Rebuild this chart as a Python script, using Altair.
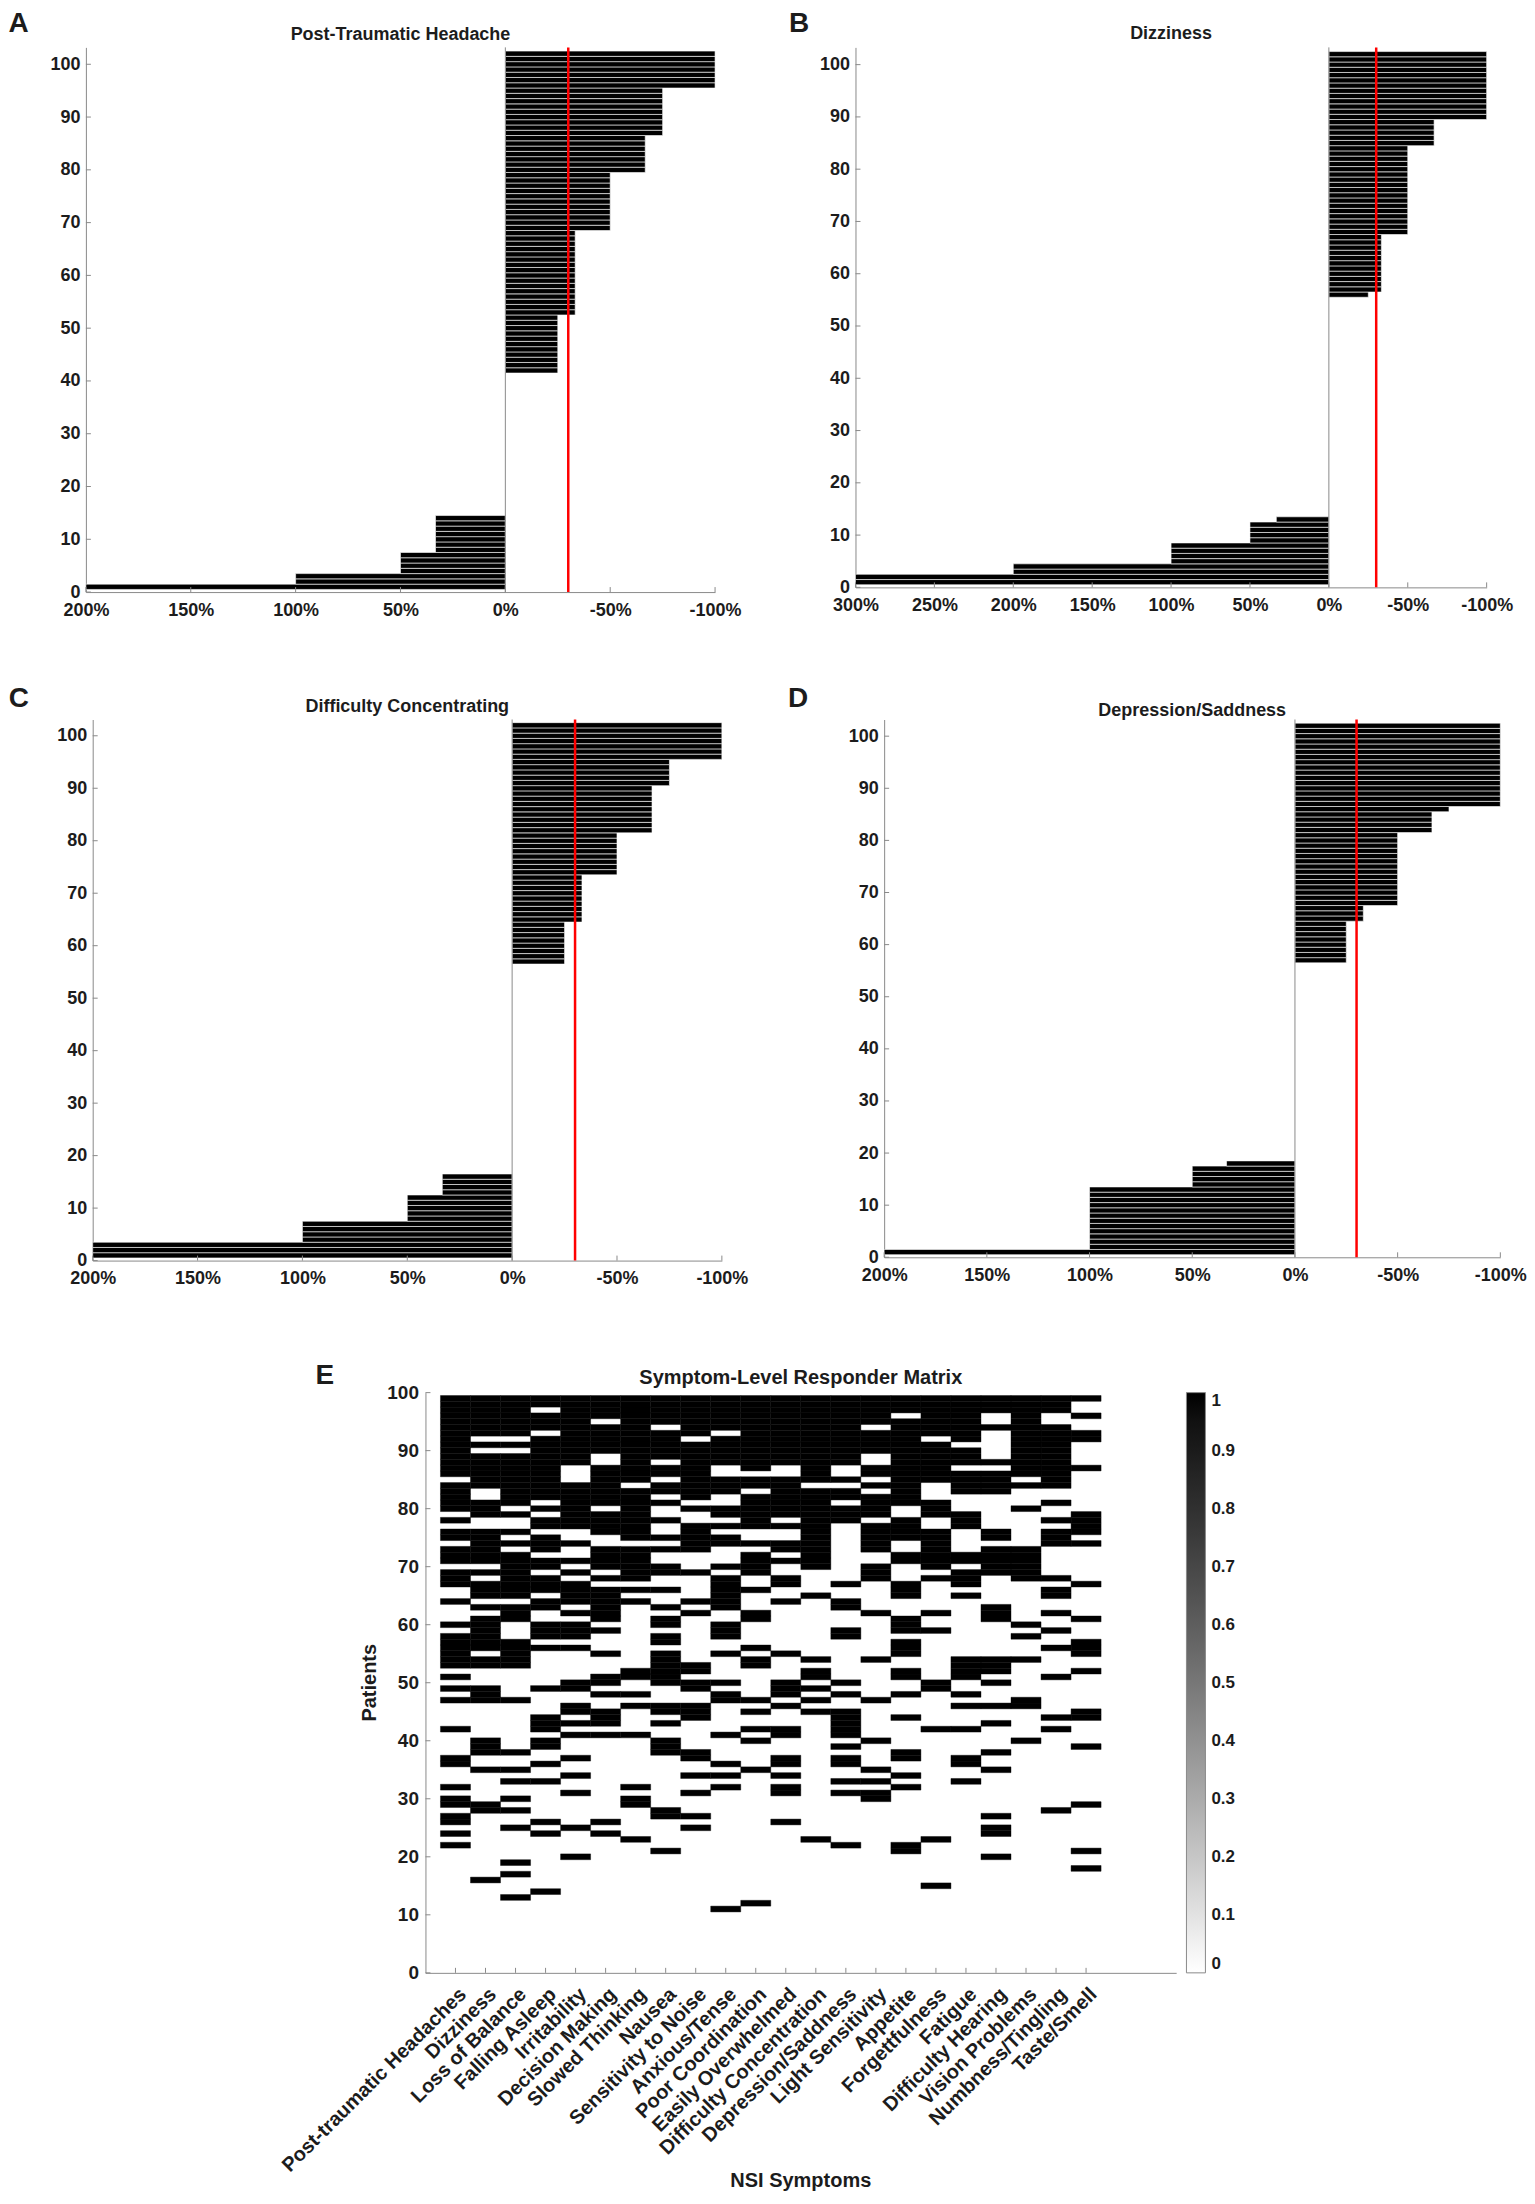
import altair as alt
import pandas as pd

FONT = "Liberation Sans, Arial, Helvetica, sans-serif"
AXIS_GRAY = "#8a8a8a"
TEXT = "#1c1c1c"
THRESHOLD = -30  # responder threshold (% change)

# ---------------- Panels A-D : % change per patient (sorted), as (value, count) runs
A_PCT = [200, 100, 50, 33.3, 0, -25, -33.3, -50, -66.7, -75, -100]
A_CNT = [1, 2, 4, 7, 27, 11, 16, 11, 7, 9, 7]
B_PCT = [300, 200, 100, 50, 33.3, 0, -25, -33.3, -50, -66.7, -100]
B_CNT = [2, 2, 4, 4, 1, 42, 1, 11, 17, 5, 13]
C_PCT = [200, 100, 50, 33.3, 0, -25, -33.3, -50, -66.7, -75, -100]
C_CNT = [3, 4, 5, 4, 40, 8, 9, 8, 9, 5, 7]
D_PCT = [200, 100, 50, 33.3, 0, -25, -33.3, -50, -66.7, -75, -100]
D_CNT = [1, 12, 4, 1, 38, 8, 3, 14, 4, 1, 16]

# ---------------- Panel E : symptom-level responder matrix (patients with value 1)
SYMPTOMS = ["Post-traumatic Headaches", "Dizziness", "Loss of Balance", "Falling Asleep",
            "Irritability", "Decision Making", "Slowed Thinking", "Nausea",
            "Sensitivity to Noise", "Anxious/Tense", "Poor Coordination", "Easily Overwhelmed",
            "Difficulty Concentration", "Depression/Saddness", "Light Sensitivity", "Appetite",
            "Forgettfulness", "Fatigue", "Difficulty Hearing", "Vision Problems",
            "Numbness/Tingling", "Taste/Smell"]
r_ptha = "22 24 26-27 29-30 32 36-37 42 47 49 51 53-58 60 64 67-69 71-73 75-76 78 80-84 86-99"
r_dizz = "16 28-29 35 38-40 47-49 53-54 56-61 63 65-67 69 71-76 79-81 84-89 91 93-99"
r_bal = "13 17 19 25 28 30 33 35 38 47 53-57 61-63 65-72 74 76 79 81-89 91 93-99"
r_sleep = "14 24 26 33 36 39-40 42-44 49 56 58-60 63-64 66-68 70-71 73-75 77-78 80 82-92 94-96 98-99"
r_irr = "20 25 31 34 37 41 43 45-46 49-50 56 58-60 62 64-67 69 71 74 77-84 88-99"
r_dec = "24 26 41 43-45 48 50-51 55 59 61-66 68 70-73 76-79 81-87 90-94 96-99"
r_slow = "23 29-30 32 41 46 48 51-52 64 66 68-73 75-83 85-99"
r_naus = "21 27-28 38-40 43 45-46 50-55 57-58 60-61 63 66 69-70 73 75 78 81 83-84 86-87 89-93 95-99"
r_noise = "25 27 31 34 37-38 44-46 49-50 52-53 62 64 69 73-77 80 82-91 93-99"
r_anx = "11 32 34 36 41 47-48 50 55 58-60 63-68 70 74-75 77 79-80 83-85 88-92 94-99"
r_coord = "12 35 40 42 45 47 53-54 56 61-62 66 69-72 74 77-82 84-85 87-99"
r_over = "26 31-32 34 36-37 41-42 46 48-50 55 64 67-68 71 73-74 77 79-85 88-99"
r_conc = "23 45 47 49 51-52 54 65 70-83 85-99"
r_depr = "22 31 33 36-37 39 41-45 48 50 58-59 63-64 67 78-80 82-83 85 88-99"
r_light = "30-31 33 35 40 47 54 62 68-70 73-77 79-82 84 86-87 90-93 95-99"
r_app = "21-22 32 34 37-38 44 48 51-52 55-57 59-61 65-67 71-72 75-78 81-95 97-99"
r_forg = "15 23 42 49-50 59 62 68 70-76 79-81 85-91 93-99"
r_fat = "33 36-37 42 46 48 51-54 65 67-69 71-72 77-79 83-86 88-90 92-99"
r_hear = "20 24-25 27 35 38 43 46 50 52-54 61-63 69-73 75-76 83-86 88 94 97-99"
r_vis = "40 46-47 54 58 60 68-73 80 84 86-99"
r_numb = "28 42 44 51 56 59 62 65-66 68 74-76 78 81 84-94 97-99"
r_taste = "18 21 29 39 44-45 52 55-57 61 67 74 76-79 87 92-93 96 99"
RESPONDERS = [r_ptha, r_dizz, r_bal, r_sleep, r_irr, r_dec, r_slow, r_naus, r_noise, r_anx,
              r_coord, r_over, r_conc, r_depr, r_light, r_app, r_forg, r_fat, r_hear, r_vis,
              r_numb, r_taste]


def parse_rows(spec):
    out = []
    for tok in spec.split():
        if "-" in tok:
            a, b = tok.split("-")
            out.extend(range(int(a), int(b) + 1))
        else:
            out.append(int(tok))
    return out


def expand(pct, cnt):
    out = []
    for v, c in zip(pct, cnt):
        out.extend([v] * c)
    return out


def text_layer(label, x, y, size, align="left", baseline="top", angle=0):
    return alt.Chart(pd.DataFrame({"t": [label]})).mark_text(
        font=FONT, fontSize=size, fontWeight="bold", color=TEXT,
        align=align, baseline=baseline, angle=angle
    ).encode(text="t:N", x=alt.value(x), y=alt.value(y))


def frame(h, top=38, bottom=42):
    # invisible rule fixing each panel's vertical extent for the layout
    return alt.Chart(pd.DataFrame({"a": [0]})).mark_rule(opacity=0, strokeWidth=1).encode(
        x=alt.value(0), y=alt.value(-top), y2=alt.value(h + bottom))


def spacer(w):
    return alt.Chart(pd.DataFrame({"a": [0]})).mark_point(opacity=0).encode(
        x=alt.X("a:Q", axis=None), y=alt.Y("a:Q", axis=None)).properties(width=w, height=10)


def waterfall(pct, cnt, title, letter, xmax, w, h, ymax, letter_xy, title_dy, fb=42):
    vals = expand(pct, cnt)
    n = len(vals)
    df = pd.DataFrame({"patient": list(range(1, n + 1)), "pct": vals})
    df["y0"] = df["patient"] - 0.5
    df["y1"] = df["patient"] + 0.5
    df["base"] = 0.0
    xticks = list(range(xmax, -101, -50))
    yticks = list(range(0, 101, 10))
    xs = alt.Scale(domain=[xmax, -100], nice=False, zero=False)
    ys = alt.Scale(domain=[0, ymax], nice=False, zero=False)
    xaxis = alt.Axis(values=xticks, labelExpr="datum.value + '%'", title=None,
                     labelFontSize=18, labelPadding=9, labelFlush=False, labelOverlap=False)
    yaxis = alt.Axis(values=yticks, title=None, labelFontSize=18, labelPadding=6,
                     labelFlush=False, labelOverlap=False)

    bars = alt.Chart(df).transform_filter("datum.pct != 0").mark_rect(
        color="black", stroke="white", strokeWidth=0.6
    ).encode(
        x=alt.X("pct:Q", scale=xs, axis=xaxis),
        x2="base:Q",
        y=alt.Y("y0:Q", scale=ys, axis=yaxis),
        y2="y1:Q",
    )
    zero = alt.Chart(pd.DataFrame({"v": [0]})).mark_rule(color=AXIS_GRAY, strokeWidth=1).encode(
        x=alt.X("v:Q", scale=xs, axis=xaxis), y=alt.value(0), y2=alt.value(h))
    red = alt.Chart(pd.DataFrame({"v": [THRESHOLD]})).mark_rule(color="#ff0000", strokeWidth=2.5).encode(
        x=alt.X("v:Q", scale=xs, axis=xaxis), y=alt.value(0), y2=alt.value(h))
    ytk = alt.Chart(pd.DataFrame({"v": yticks})).mark_rule(color=AXIS_GRAY).encode(
        y=alt.Y("v:Q", scale=ys, axis=yaxis), x=alt.value(0), x2=alt.value(5))
    xtk = alt.Chart(pd.DataFrame({"v": xticks})).mark_rule(color=AXIS_GRAY).encode(
        x=alt.X("v:Q", scale=xs, axis=xaxis), y=alt.value(h), y2=alt.value(h - 5))
    lt = text_layer(letter, letter_xy[0], letter_xy[1], 28)
    tt = text_layer(title, w / 2, title_dy, 18, align="center", baseline="middle")
    return alt.layer(frame(h, 38, fb), bars, zero, red, ytk, xtk, lt, tt).properties(width=w, height=h)


pA = waterfall(A_PCT, A_CNT, "Post-Traumatic Headache", "A", 200, 630, 545.4, 103.2, (-77.4, -37), -12)
pB = waterfall(B_PCT, B_CNT, "Dizziness", "B", 300, 632, 540.7, 103.3, (-66.5, -37), -13)
pC = waterfall(C_PCT, C_CNT, "Difficulty Concentrating", "C", 200, 630, 541.8, 103.1, (-84, -35), -13, fb=46.5)
pD = waterfall(D_PCT, D_CNT, "Depression/Saddness", "D", 200, 617, 538.5, 103.2, (-96.2, -35), -9)

# ---------------- Panel E
recs = []
for ci, spec in enumerate(RESPONDERS, start=1):
    for r in parse_rows(spec):
        recs.append({"symptom": SYMPTOMS[ci - 1], "col": ci, "patient": r, "responder": 1,
                     "x0": ci - 0.5, "x1": ci + 0.5, "y0": r - 0.5, "y1": r + 0.5})
mdf = pd.DataFrame(recs)

EW, EH = 751.7, 581
exs = alt.Scale(domain=[0, 25], nice=False, zero=False)
eys = alt.Scale(domain=[0, 100], nice=False, zero=False)
label_js = "[" + ",".join("'" + s + "'" for s in SYMPTOMS) + "][datum.value - 1]"
exaxis = alt.Axis(values=list(range(1, len(SYMPTOMS) + 1)), labelExpr=label_js, labelAngle=315,
                  labelFontSize=20, labelPadding=11, labelLimit=500, labelOverlap=False,
                  labelFlush=False, title=None)
eyaxis = alt.Axis(values=list(range(0, 101, 10)), labelFontSize=19, labelPadding=7,
                  labelFlush=False, labelOverlap=False, title=None)

cells = alt.Chart(mdf).mark_rect(stroke="black", strokeWidth=0.4).encode(
    x=alt.X("x0:Q", scale=exs, axis=exaxis),
    x2="x1:Q",
    y=alt.Y("y0:Q", scale=eys, axis=eyaxis),
    y2="y1:Q",
    color=alt.Color("responder:Q",
                    scale=alt.Scale(domain=[0, 1], range=["#ffffff", "#000000"]),
                    legend=alt.Legend(title=None, orient="right", direction="vertical",
                                      type="gradient", offset=10, padding=0,
                                      gradientLength=EH, gradientThickness=19,
                                      gradientStrokeColor=AXIS_GRAY, gradientStrokeWidth=1,
                                      values=[0, 0.1, 0.2, 0.3, 0.4, 0.5, 0.6, 0.7, 0.8, 0.9, 1],
                                      labelExpr="format(datum.value, '.1~f')",
                                      labelFont=FONT, labelFontSize=17, labelFontWeight="bold",
                                      labelColor=TEXT, labelOffset=6, labelOverlap=False)),
)
extk = alt.Chart(pd.DataFrame({"v": list(range(1, len(SYMPTOMS) + 1))})).mark_rule(color=AXIS_GRAY).encode(
    x=alt.X("v:Q", scale=exs, axis=exaxis), y=alt.value(EH), y2=alt.value(EH - 5))
eytk = alt.Chart(pd.DataFrame({"v": list(range(0, 101, 10))})).mark_rule(color=AXIS_GRAY).encode(
    y=alt.Y("v:Q", scale=eys, axis=eyaxis), x=alt.value(0), x2=alt.value(5))
pE = alt.layer(
    frame(EH, 38, 20), cells, extk, eytk,
    text_layer("E", -110, -31, 28),
    text_layer("Symptom-Level Responder Matrix", EW / 2, -15, 20, align="center", baseline="middle"),
    text_layer("Patients", -56, EH / 2, 20, align="center", baseline="middle", angle=270),
    text_layer("NSI Symptoms", EW / 2, 789, 20, align="center", baseline="middle"),
).properties(width=EW, height=EH)

row1 = alt.hconcat(pA, pB, spacing=140.6, bounds="flush")
row2 = alt.hconcat(spacer(1), alt.hconcat(pC, pD, spacing=162.5, bounds="flush"),
                   spacing=5.8, bounds="flush")
row3 = alt.hconcat(spacer(329.6), pE, spacing=10, bounds="flush")

chart = alt.vconcat(row1, row2, row3, spacing=47).resolve_scale(
    color="independent").resolve_legend(color="independent").properties(
    padding=0
).configure_view(strokeWidth=0).configure_axis(
    grid=False, ticks=False, tickSize=0, domainColor=AXIS_GRAY, domainWidth=1,
    labelFont=FONT, labelFontWeight="bold", labelColor=TEXT
)

chart.save("out.html", embed_options={"renderer": "svg", "actions": False})
